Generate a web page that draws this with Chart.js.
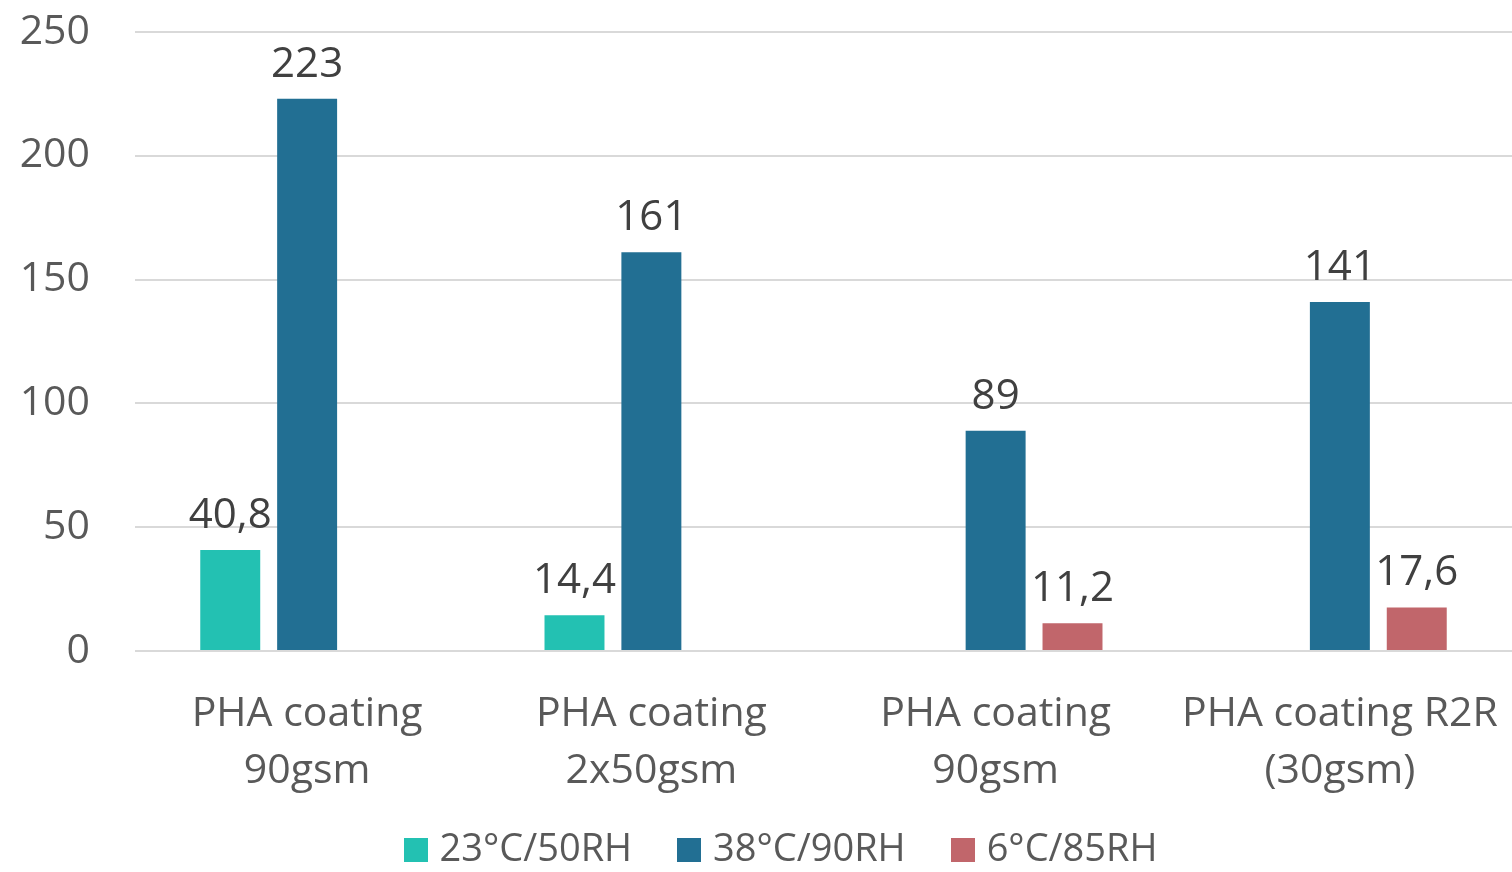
<!DOCTYPE html>
<html>
<head>
<meta charset="utf-8">
<script src="https://cdn.jsdelivr.net/npm/chart.js@4"></script>
<style>
  html, body { margin: 0; padding: 0; background: #ffffff; }
  #wrap { width: 1512px; height: 872px; }
</style>
</head>
<body>
<div id="wrap"><canvas id="chart" width="1512" height="872"></canvas></div>
<script>
// Sample groups (x axis), two-line labels
const categories = [
  ['PHA coating', '90gsm'],
  ['PHA coating', '2x50gsm'],
  ['PHA coating', '90gsm'],
  ['PHA coating R2R', '(30gsm)']
];
// Conditioning climates (series)
const seriesNames = ['23°C/50RH', '38°C/90RH', '6°C/85RH'];
const values23_50 = [40.8, 14.4, null, null];
const values38_90 = [223, 161, 89, 141];
const values6_85  = [null, null, 11.2, 17.6];
// Y axis ticks
const yTicks = [0, 50, 100, 150, 200, 250];

const FONT = "'Open Sans', 'DejaVu Sans', sans-serif";
const colors = ['#23C1B2', '#226F93', '#C1666B'];
const LEGEND_FONT = 38;
const LEGEND_PAD = 52;

// Square colour swatches for the legend (24 px)
const swatches = colors.map(c => {
  const cv = document.createElement('canvas');
  cv.width = 24; cv.height = 24;
  const g = cv.getContext('2d');
  g.fillStyle = c;
  g.fillRect(0, 0, 24, 24);
  return cv;
});

// Writes each bar's value (decimal comma) centred above it
const valueLabels = {
  id: 'valueLabels',
  afterDatasetsDraw(chart) {
    const ctx = chart.ctx;
    ctx.save();
    ctx.font = '42px ' + FONT;
    ctx.fillStyle = '#404040';
    ctx.textAlign = 'center';
    ctx.textBaseline = 'alphabetic';
    chart.data.datasets.forEach((ds, di) => {
      const meta = chart.getDatasetMeta(di);
      meta.data.forEach((bar, i) => {
        const v = ds.data[i];
        if (v === null || v === undefined) return;
        ctx.fillText(String(v).replace('.', ','), bar.x, bar.y - 22);
      });
    });
    ctx.restore();
  }
};

// Places the legend row: centred a little right of the page middle, near the bottom edge
const legendPlacement = {
  id: 'legendPlacement',
  afterLayout(chart) {
    const lg = chart.legend;
    if (!lg) return;
    const h = lg.height;
    lg.left += 28;
    lg.right += 28;
    lg.top = 850 - LEGEND_PAD - LEGEND_FONT / 2;
    lg.bottom = lg.top + h;
  }
};

new Chart(document.getElementById('chart'), {
  type: 'bar',
  data: {
    labels: categories,
    datasets: [
      { label: seriesNames[0], data: values23_50, backgroundColor: colors[0] },
      { label: seriesNames[1], data: values38_90, backgroundColor: colors[1] },
      { label: seriesNames[2], data: values6_85, backgroundColor: colors[2] }
    ]
  },
  options: {
    responsive: false,
    animation: false,
    devicePixelRatio: 1,
    categoryPercentage: 0.67,
    barPercentage: 0.78,
    layout: { padding: { top: 32, right: 0, left: 0, bottom: -39 } },
    plugins: {
      tooltip: { enabled: false },
      legend: {
        position: 'bottom',
        labels: {
          usePointStyle: true,
          boxWidth: 10,
          boxHeight: 24,
          padding: LEGEND_PAD,
          color: '#595959',
          font: { family: FONT, size: LEGEND_FONT },
          generateLabels(chart) {
            const items = Chart.defaults.plugins.legend.labels.generateLabels(chart);
            items.forEach((it, i) => { it.pointStyle = swatches[i]; });
            return items;
          }
        }
      }
    },
    scales: {
      x: {
        afterFit(scale) {
          scale.height = 160;
          scale.paddingLeft = 0;
          scale.paddingRight = 0;
        },
        grid: { display: false, drawTicks: false },
        border: { display: false },
        ticks: {
          color: '#595959',
          padding: 35,
          maxRotation: 0,
          autoSkip: false,
          font: { family: FONT, size: 41, lineHeight: 1.39 }
        }
      },
      y: {
        min: 0,
        max: 250,
        afterFit(scale) {
          scale.width = 135;
          scale.paddingTop = 0;
          scale.paddingBottom = 0;
        },
        afterBuildTicks(scale) { scale.ticks = yTicks.map(v => ({ value: v })); },
        grid: { color: '#D9D9D9', lineWidth: 2, drawTicks: false },
        border: { display: false },
        ticks: {
          color: '#595959',
          padding: 45,
          font: { family: FONT, size: 41 }
        }
      }
    }
  },
  plugins: [valueLabels, legendPlacement]
});
</script>
</body>
</html>
